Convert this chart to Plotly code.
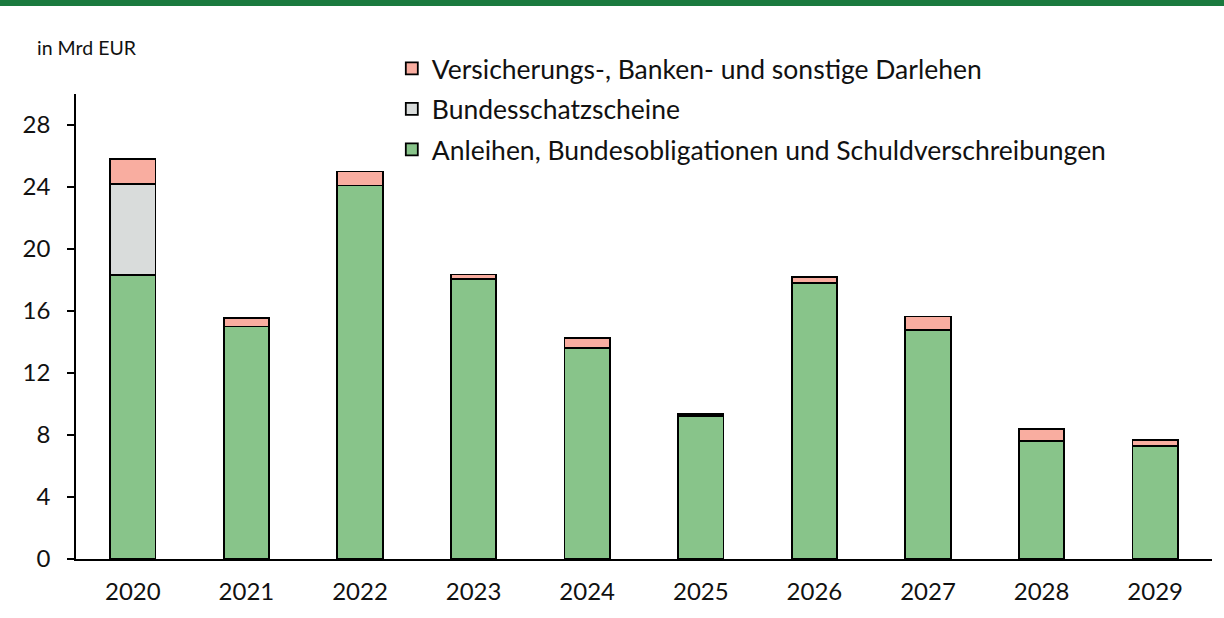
import plotly.graph_objects as go

years = ["2020", "2021", "2022", "2023", "2024", "2025", "2026", "2027", "2028", "2029"]
anleihen = [18.3, 15.0, 24.1, 18.05, 13.6, 9.25, 17.8, 14.8, 7.6, 7.3]
schatz = [5.9, 0, 0, 0, 0, 0, 0, 0, 0, 0]
darlehen = [1.6, 0.55, 0.9, 0.3, 0.65, 0.1, 0.4, 0.85, 0.8, 0.4]
y_ticks = [0, 4, 8, 12, 16, 20, 24, 28]

names = [
    "Anleihen, Bundesobligationen und Schuldverschreibungen",
    "Bundesschatzscheine",
    "Versicherungs-, Banken- und sonstige Darlehen",
]
colors = ["#88c48a", "#d9dcdb", "#f9ada0"]
ranks = [3, 2, 1]

FONT = "Lato, Carlito, Calibri, sans-serif"

fig = go.Figure()
for vals, name, col, rk in zip([anleihen, schatz, darlehen], names, colors, ranks):
    fig.add_trace(go.Bar(
        x=years, y=vals, name=name, legendgroup=name, legendrank=rk,
        marker=dict(color=col, line=dict(color="black", width=1.8)),
    ))

fig.update_layout(
    width=1224, height=618,
    barmode="stack", bargap=0.6,
    paper_bgcolor="white", plot_bgcolor="white",
    margin=dict(l=76, r=12, t=94, b=59),
    font=dict(family=FONT, size=24, color="#111111"),
    showlegend=True,
    legend=dict(
        x=0.278, y=1.106, xanchor="left", yanchor="top",
        traceorder="grouped", tracegroupgap=3,
        font=dict(size=26.5, family=FONT), bgcolor="rgba(0,0,0,0)",
        itemwidth=30,
    ),
    xaxis=dict(
        showline=True, linecolor="black", linewidth=1.5,
        ticks="", tickfont=dict(size=24), showgrid=False,
        ticklabelstandoff=10,
    ),
    yaxis=dict(
        range=[0, 30], tickvals=y_ticks, showline=True, linecolor="black",
        linewidth=1.5, ticks="outside", ticklen=7, tickwidth=1.5, tickcolor="black",
        showgrid=False, zeroline=False, tickfont=dict(size=24),
        ticklabelstandoff=12,
    ),
    shapes=[dict(
        type="rect", xref="paper", yref="paper",
        x0=-0.2, x1=1.2, y0=1.189, y1=1.21,
        fillcolor="#1a7a3e", line=dict(width=0), layer="above",
    )],
    annotations=[dict(
        text="in Mrd EUR", xref="paper", yref="paper",
        x=-0.036, y=1.099, xanchor="left", yanchor="middle",
        showarrow=False, font=dict(size=19.5, family=FONT, color="#111111"),
    )],
)

fig.write_html("out.html", config={"displayModeBar": False},
               post_script="document.body.style.margin='0';")
